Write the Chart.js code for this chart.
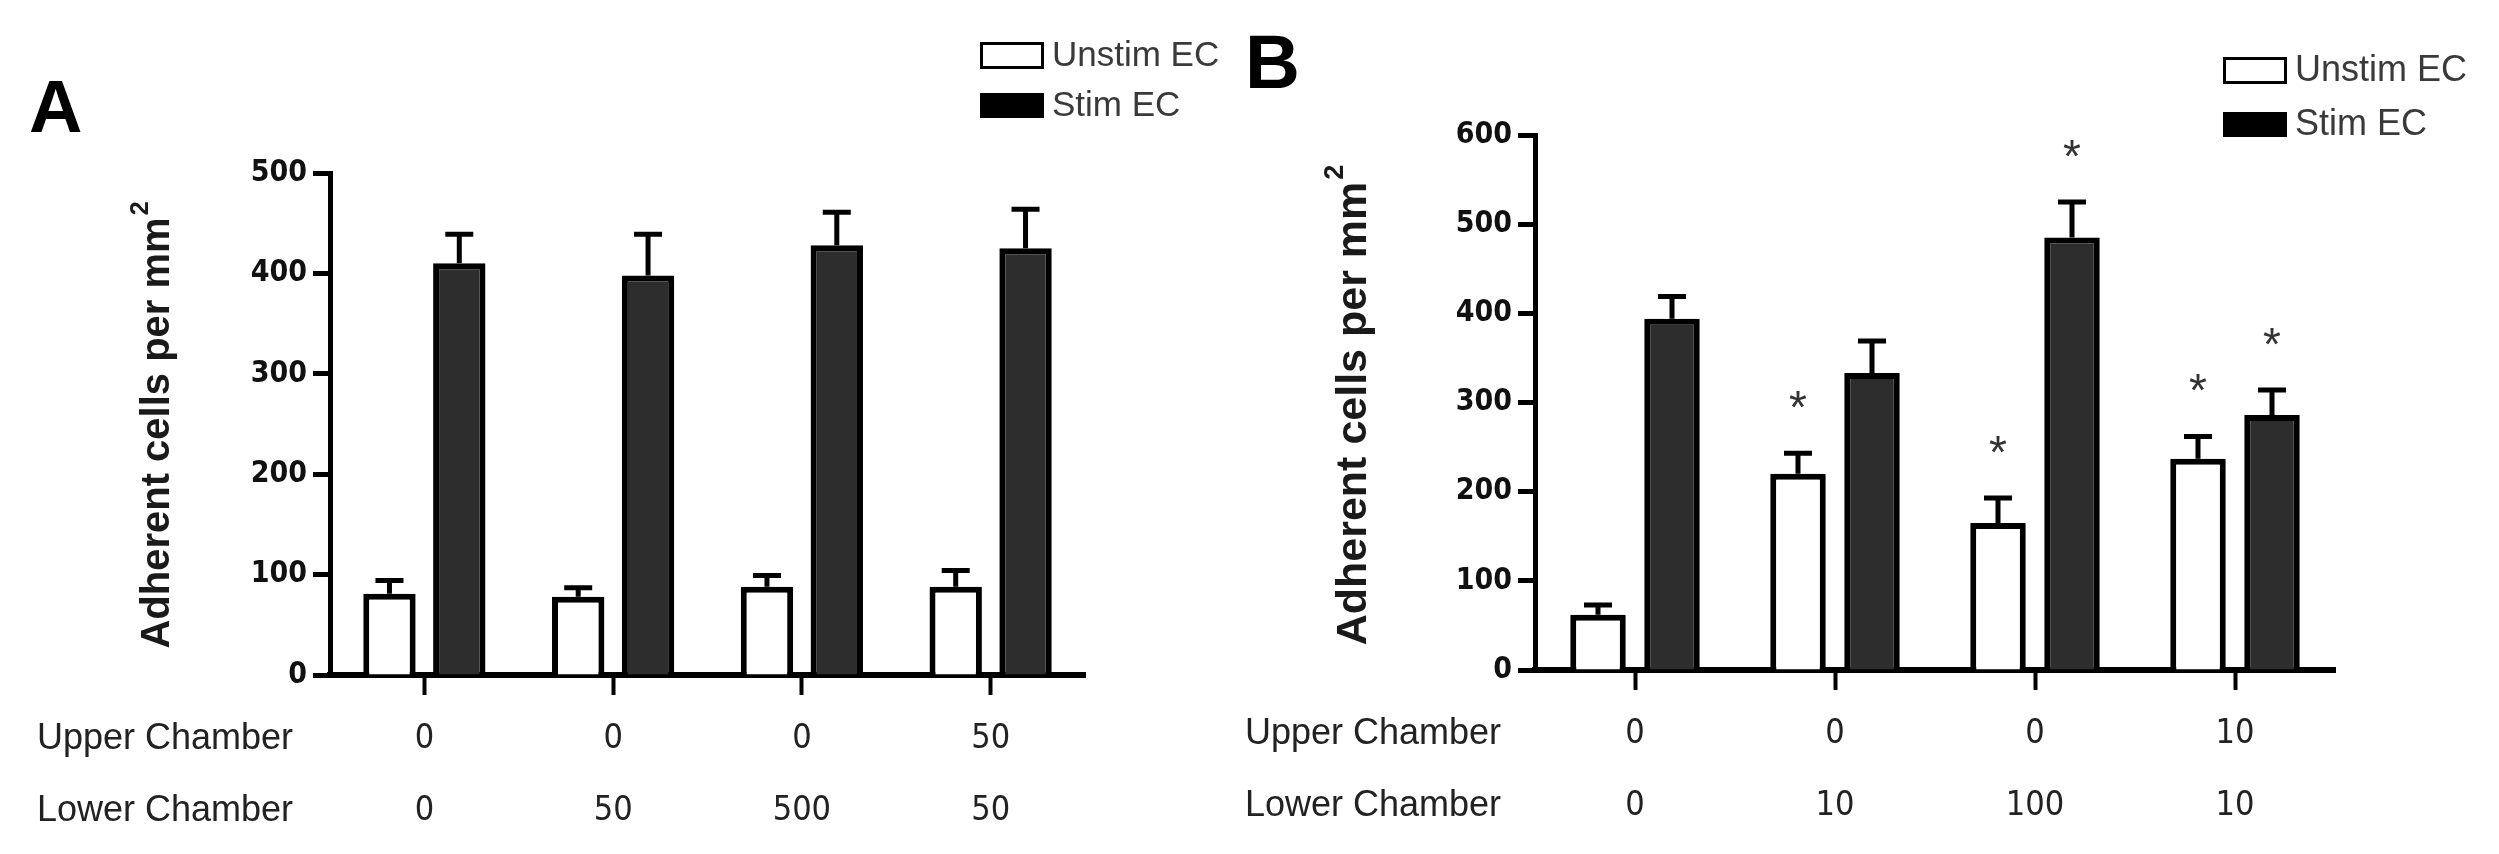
<!DOCTYPE html>
<html lang="en">
<head>
<meta charset="UTF-8">
<title>Adherent cells per mm2</title>
<script src="https://cdn.jsdelivr.net/npm/chart.js"></script>
<style>
  body { margin: 0; background: #fff; }
  .wrap { position: relative; width: 2499px; height: 854px; }
  canvas { position: absolute; top: 0; }
  #panelA { left: 0; }
  #panelB { left: 1240px; }
</style>
</head>
<body>
<div class="wrap">
  <canvas id="panelA" width="1240" height="854"></canvas>
  <canvas id="panelB" width="1259" height="854"></canvas>
</div>
<script>
// shared labels
const seriesNames = ['Unstim EC', 'Stim EC'];
const rowNames = ['Upper Chamber', 'Lower Chamber'];

// panel A
const upperA = ['0', '0', '0', '50'];
const lowerA = ['0', '50', '500', '50'];
const unstimA = [81, 78, 88, 88];
const unstimErrA = [13, 9, 11, 16];
const stimA = [410, 398, 428, 425];
const stimErrA = [29, 41, 33, 39];
const yTicksA = [0, 100, 200, 300, 400, 500];

// panel B
const upperB = ['0', '0', '0', '10'];
const lowerB = ['0', '10', '100', '10'];
const unstimB = [62, 220, 165, 237];
const unstimErrB = [11, 23, 28, 25];
const stimB = [394, 333, 485, 286];
const stimErrB = [25, 36, 40, 28];
const unstimSigB = [false, true, true, true];
const stimSigB = [false, false, true, true];
const yTicksB = [0, 100, 200, 300, 400, 500, 600];

const ARIAL = '"Liberation Sans", Arial, sans-serif';
const NARROW = '"Liberation Sans Narrow", "DejaVu Sans Condensed", "Liberation Sans", sans-serif';
Chart.defaults.font.family = NARROW;
const X_TICK = 20, X_PAD = 8, ROW_H = 72;

function makePanel(id, p) {
  const deco = {
    id: 'deco',
    afterDatasetsDraw(chart) {
      const ctx = chart.ctx, y = chart.scales.y;
      ctx.save();
      p.errors.forEach((errs, i) => {
        const meta = chart.getDatasetMeta(i);
        meta.data.forEach((bar, j) => {
          const v = chart.data.datasets[i].data[j];
          const top = y.getPixelForValue(v + errs[j]);
          ctx.strokeStyle = '#000';
          ctx.lineWidth = 5;
          ctx.beginPath();
          ctx.moveTo(bar.x, bar.y);
          ctx.lineTo(bar.x, top);
          ctx.moveTo(bar.x - 14, top);
          ctx.lineTo(bar.x + 14, top);
          ctx.stroke();
          if (p.sig && p.sig[i][j]) {
            ctx.fillStyle = '#333';
            ctx.font = '46px ' + ARIAL;
            ctx.textAlign = 'center';
            ctx.textBaseline = 'alphabetic';
            ctx.fillText('*', bar.x, top - 56 + 26);
          }
        });
      });
      ctx.restore();
    },
    afterDraw(chart) {
      const ctx = chart.ctx, area = chart.chartArea, x = chart.scales.x;
      ctx.save();

      // panel letter
      ctx.fillStyle = '#000';
      ctx.font = 'bold ' + p.letterSize + 'px ' + ARIAL;
      ctx.textAlign = 'left';
      ctx.textBaseline = 'alphabetic';
      ctx.fillText(p.letter, p.letterX, p.letterY);

      // y axis title with superscript
      ctx.save();
      ctx.translate(p.titleX, p.titleY);
      ctx.rotate(-Math.PI / 2);
      ctx.fillStyle = '#1a1a1a';
      const main = 'Adherent cells per mm';
      const mainFont = 'bold ' + p.titleSize + 'px ' + ARIAL;
      const supFont = 'bold ' + Math.round(p.titleSize * 0.62) + 'px ' + ARIAL;
      ctx.font = mainFont;
      const w1 = ctx.measureText(main).width;
      ctx.font = supFont;
      const w2 = ctx.measureText('2').width;
      const start = -(w1 + w2 + 2) / 2;
      ctx.textAlign = 'left';
      ctx.textBaseline = 'middle';
      ctx.font = mainFont;
      ctx.fillText(main, start, 0);
      ctx.font = supFont;
      ctx.fillText('2', start + w1 + 2, -p.titleSize * 0.42);
      ctx.restore();

      // legend
      chart.data.datasets.forEach((ds, i) => {
        const bx = p.legend.x, by = p.legend.y[i], bh = p.legend.h[i];
        if (i === 0) {
          ctx.fillStyle = '#fff';
          ctx.fillRect(bx, by, p.legend.w, bh);
          ctx.strokeStyle = '#000';
          ctx.lineWidth = 3;
          ctx.strokeRect(bx + 1.5, by + 1.5, p.legend.w - 3, bh - 3);
        } else {
          ctx.fillStyle = '#000';
          ctx.fillRect(bx, by, p.legend.w, bh);
        }
        ctx.fillStyle = '#3a3a3a';
        ctx.font = p.legend.font + 'px ' + ARIAL;
        ctx.textAlign = 'left';
        ctx.textBaseline = 'middle';
        ctx.fillText(ds.label, bx + p.legend.w + 8, by + bh / 2 + 1);
      });

      // row headers, aligned with the library's two-line tick labels
      ctx.fillStyle = '#222';
      ctx.font = '36px ' + ARIAL;
      ctx.textAlign = 'right';
      ctx.textBaseline = 'middle';
      const y1 = x.top + X_TICK + X_PAD + ROW_H / 2;
      rowNames.forEach((name, r) => {
        ctx.fillText(name, area.left - p.headerGap, y1 + r * ROW_H);
      });
      ctx.restore();
    }
  };

  return new Chart(document.getElementById(id), {
    type: 'bar',
    data: {
      labels: p.upper.map((u, i) => [u, p.lower[i]]),
      datasets: [
        {
          label: seriesNames[0],
          data: p.unstim,
          backgroundColor: '#ffffff',
          borderColor: '#000',
          borderWidth: 6
        },
        {
          label: seriesNames[1],
          data: p.stim,
          backgroundColor: '#2d2d2d',
          borderColor: '#000',
          borderWidth: 6
        }
      ]
    },
    options: {
      responsive: false,
      animation: false,
      devicePixelRatio: 1,
      categoryPercentage: 0.74,
      barPercentage: 0.75,
      layout: { padding: p.padding },
      plugins: { legend: { display: false }, tooltip: { enabled: false } },
      scales: {
        x: {
          grid: {
            offset: false,
            drawOnChartArea: false,
            drawTicks: true,
            tickLength: X_TICK,
            tickWidth: 4,
            tickColor: '#000'
          },
          border: { color: '#000', width: 6 },
          ticks: {
            color: '#222',
            padding: X_PAD,
            maxRotation: 0,
            font: { size: 34, lineHeight: ROW_H + 'px' }
          },
          afterFit: s => { s.height = p.xHeight; }
        },
        y: {
          min: 0,
          max: p.yTicks[p.yTicks.length - 1],
          afterBuildTicks: s => { s.ticks = p.yTicks.map(v => ({ value: v })); },
          grid: {
            drawOnChartArea: false,
            drawTicks: true,
            tickLength: 17,
            tickWidth: 5,
            tickColor: '#000'
          },
          border: { color: '#000', width: 5 },
          ticks: {
            color: '#111',
            padding: 6,
            font: { size: 30, weight: 'bold' }
          },
          afterFit: s => { s.width = 130; }
        }
      }
    },
    plugins: [deco]
  });
}

makePanel('panelA', {
  upper: upperA, lower: lowerA,
  unstim: unstimA, stim: stimA,
  errors: [unstimErrA, stimErrA],
  sig: null,
  yTicks: yTicksA,
  padding: { left: 200, right: 155, top: 173, bottom: 0 },
  xHeight: 179,
  letter: 'A', letterSize: 74, letterX: 29, letterY: 132,
  titleX: 158, titleY: 425, titleSize: 40,
  legend: { x: 980, y: [42, 93], h: [27, 25], w: 64, font: 35 },
  headerGap: 37
});

makePanel('panelB', {
  upper: upperB, lower: lowerB,
  unstim: unstimB, stim: stimB,
  errors: [unstimErrB, stimErrB],
  sig: [unstimSigB, stimSigB],
  yTicks: yTicksB,
  padding: { left: 165, right: 164, top: 135, bottom: 0 },
  xHeight: 184,
  letter: 'B', letterSize: 76, letterX: 5, letterY: 88,
  titleX: 114, titleY: 405, titleSize: 43,
  legend: { x: 983, y: [57, 112], h: [27, 25], w: 64, font: 36 },
  headerGap: 34
});
</script>
</body>
</html>
